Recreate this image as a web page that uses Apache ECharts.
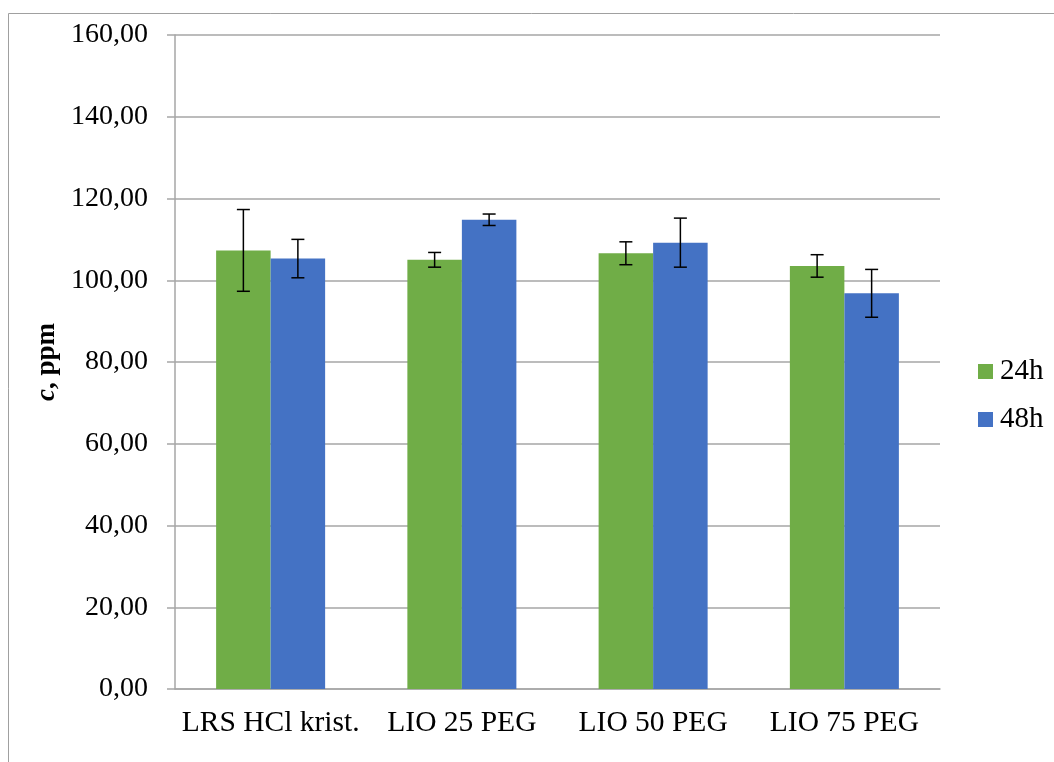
<!DOCTYPE html>
<html>
<head>
<meta charset="utf-8">
<script src="https://cdn.jsdelivr.net/npm/echarts@6/dist/echarts.min.js"></script>
<style>html,body{margin:0;padding:0;background:#fff}#c{width:1054px;height:762px}</style>
</head>
<body>
<div id="c"></div>
<script>
const categories = ['LRS HCl krist.', 'LIO 25 PEG', 'LIO 50 PEG', 'LIO 75 PEG'];
const seriesNames = ['24h', '48h'];
const values24 = [107.3, 105.0, 106.6, 103.5];
const err24 = [10.0, 1.8, 2.8, 2.75];
const values48 = [105.3, 114.8, 109.2, 96.8];
const err48 = [4.7, 1.4, 6.0, 5.85];
const yTicks = { min: 0, max: 160, interval: 20 };

const FONT = '"Liberation Serif", "Times New Roman", serif';
const BAR_FRAC = 0.285;
const chart = echarts.init(document.getElementById('c'), null, { renderer: 'canvas' });

function errSeries(vals, errs, sideSign) {
  return {
    type: 'custom',
    z: 10,
    silent: true,
    data: vals.map((v, i) => [i, v, errs[i]]),
    renderItem: function (params, api) {
      const i = api.value(0), v = api.value(1), e = api.value(2);
      const catW = api.size([1, 0])[0];
      const off = sideSign * catW * BAR_FRAC / 2;
      const top = api.coord([i, v + e]);
      const bot = api.coord([i, v - e]);
      const x = top[0] + off;
      const cap = 6.5;
      const st = { stroke: '#000', lineWidth: 1.5 };
      return {
        type: 'group',
        children: [
          { type: 'line', shape: { x1: x, y1: top[1], x2: x, y2: bot[1] }, style: st },
          { type: 'line', shape: { x1: x - cap, y1: top[1], x2: x + cap, y2: top[1] }, style: st },
          { type: 'line', shape: { x1: x - cap, y1: bot[1], x2: x + cap, y2: bot[1] }, style: st }
        ]
      };
    }
  };
}

chart.setOption({
  animation: false,
  backgroundColor: '#fff',
  graphic: [{
    type: 'rect',
    shape: { x: 8.5, y: 13.5, width: 1100, height: 800 },
    style: { fill: 'none', stroke: '#A0A0A0', lineWidth: 1 },
    z: -10
  }],
  grid: { left: 175, right: 114, top: 35, bottom: 73, containLabel: false },
  legend: {
    orient: 'vertical',
    left: 973,
    top: 352,
    itemWidth: 15,
    itemHeight: 15,
    itemGap: 19,
    icon: 'rect',
    data: seriesNames,
    textStyle: { fontFamily: FONT, fontSize: 29, lineHeight: 29, color: '#000', padding: [0, 0, 0, 2] }
  },
  xAxis: {
    type: 'category',
    data: categories,
    axisLine: { lineStyle: { color: '#A6A6A6', width: 1.5 } },
    axisTick: { show: false },
    axisLabel: { fontFamily: FONT, fontSize: 29.5, color: '#000', margin: 19, interval: 0, hideOverlap: false }
  },
  yAxis: {
    type: 'value',
    min: yTicks.min, max: yTicks.max, interval: yTicks.interval,
    name: '{i|c}{b|, ppm}',
    nameLocation: 'middle',
    nameGap: 110,
    nameTextStyle: {
      rich: {
        i: { fontFamily: FONT, fontSize: 27, fontWeight: 'bold', fontStyle: 'italic', color: '#000' },
        b: { fontFamily: FONT, fontSize: 27, fontWeight: 'bold', color: '#000' }
      }
    },
    axisLine: { show: true, lineStyle: { color: '#A6A6A6', width: 1.5 } },
    axisTick: { show: true, length: 8, lineStyle: { color: '#A6A6A6', width: 1.5 } },
    splitLine: { lineStyle: { color: '#A6A6A6', width: 1.5 } },
    axisLabel: {
      fontFamily: FONT, fontSize: 28, color: '#000', margin: 27,
      formatter: v => v.toFixed(2).replace('.', ',')
    }
  },
  series: [
    { name: seriesNames[0], type: 'bar', data: values24, barWidth: (BAR_FRAC * 100) + '%', barGap: '0%',
      itemStyle: { color: '#70AD47' } },
    { name: seriesNames[1], type: 'bar', data: values48, barWidth: (BAR_FRAC * 100) + '%', barGap: '0%',
      itemStyle: { color: '#4472C4' } },
    errSeries(values24, err24, -1),
    errSeries(values48, err48, 1)
  ]
});
</script>
</body>
</html>
